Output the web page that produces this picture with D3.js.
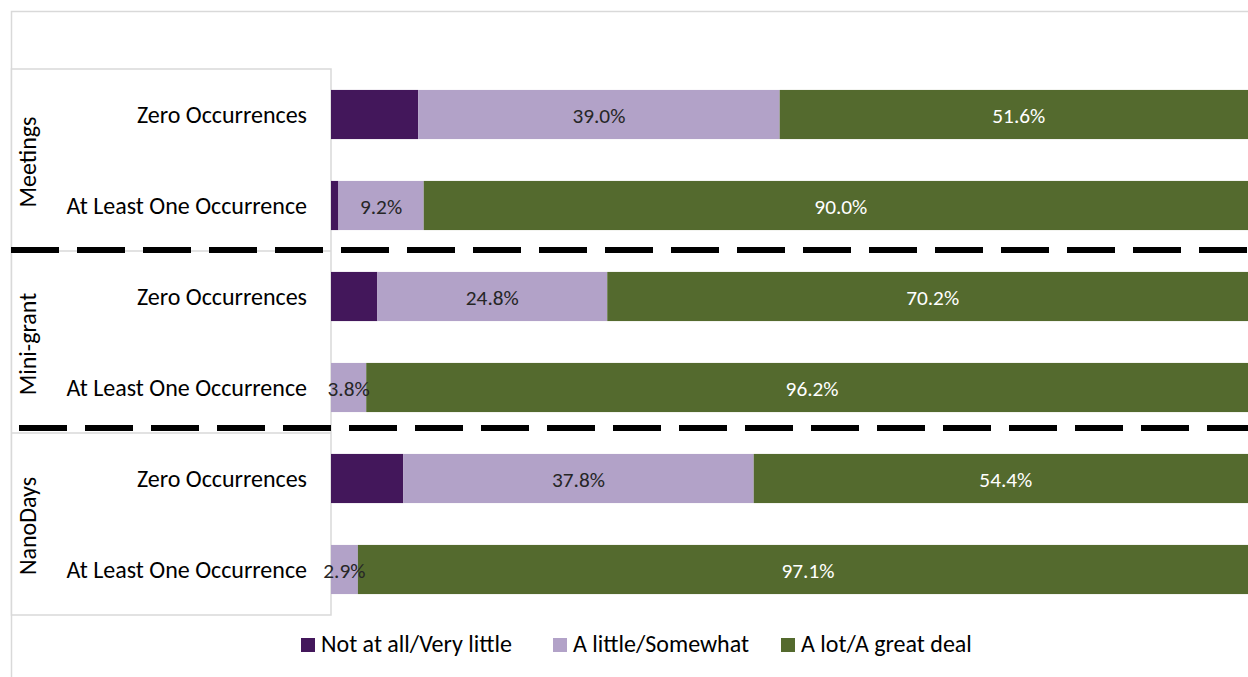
<!DOCTYPE html>
<html>
<head>
<meta charset="utf-8">
<script src="https://cdn.jsdelivr.net/npm/d3@7"></script>
<style>
  html, body { margin: 0; padding: 0; background: #fff; }
  svg { display: block; font-family: Carlito, Calibri, Lato, "Open Sans", sans-serif; }
</style>
</head>
<body>
<svg id="chart" width="1248" height="677"></svg>
<script>
// ---- data ----
const groups = ["Meetings", "Mini-grant", "NanoDays"];
const categories = ["Zero Occurrences", "At Least One Occurrence"];
const seriesNames = ["Not at all/Very little", "A little/Somewhat", "A lot/A great deal"];
// rows in order: Meetings-Zero, Meetings-ALO, Mini-grant-Zero, Mini-grant-ALO, NanoDays-Zero, NanoDays-ALO
const notAtAll = [9.4, 0.8, 5.0, 0.0, 7.8, 0.0];
const aLittle  = [39.0, 9.2, 24.8, 3.8, 37.8, 2.9];
const aLot     = [51.6, 90.0, 70.2, 96.2, 54.4, 97.1];
const showLabel = [false, true, true];
const colors = ["#43175b", "#b2a2c8", "#546a2e"];
const labelColors = ["#ffffff", "#262626", "#ffffff"];

const svg = d3.select("#chart");
const W = 1248, H = 677;

const rows = [];
groups.forEach((g, gi) => categories.forEach((c, ci) => rows.push({ key: g + "|" + c, group: g, cat: c })));
const seriesVals = [notAtAll, aLittle, aLot];

const plotLeft = 331, plotRight = 1258, plotTop = 69, plotBottom = 615;
const x = d3.scaleLinear().domain([0, 100]).range([plotLeft, plotRight]);
const y = d3.scaleBand().domain(rows.map(r => r.key)).range([plotTop, plotBottom]).paddingInner(0.46).paddingOuter(0.23);
const step = y.step();

const labelFont = 24;
const dataFont = 21.3;

// outer chart border
svg.append("rect").attr("x", 11.5).attr("y", 11.5).attr("width", W + 20).attr("height", H + 20)
  .attr("fill", "none").attr("stroke", "#d9d9d9").attr("stroke-width", 1.5);

// left label box
const boxG = svg.append("g");
boxG.append("rect").attr("x", 11.5).attr("y", plotTop).attr("width", plotLeft - 11.5).attr("height", plotBottom - plotTop)
  .attr("fill", "#fff").attr("stroke", "#d9d9d9").attr("stroke-width", 1.5);
groups.forEach((g, gi) => {
  if (gi > 0) {
    const yy = y(rows[gi * 2].key) - step * 0.23;
    boxG.append("line").attr("x1", 11.5).attr("x2", plotLeft).attr("y1", yy).attr("y2", yy)
      .attr("stroke", "#d9d9d9").attr("stroke-width", 1.5);
  }
});

// stacked bars
const stackData = rows.map((r, i) => {
  let acc = 0;
  return seriesVals.map((vals, si) => {
    const d = { row: r, si, x0: acc, x1: acc + vals[i], v: vals[i] };
    acc += vals[i];
    return d;
  });
});

const barsG = svg.append("g");
stackData.forEach(segs => {
  segs.forEach(d => {
    if (d.v <= 0) return;
    barsG.append("rect")
      .attr("x", x(d.x0)).attr("y", y(d.row.key))
      .attr("width", x(d.x1) - x(d.x0)).attr("height", y.bandwidth())
      .attr("fill", colors[d.si]);
  });
});
stackData.forEach(segs => {
  segs.forEach(d => {
    if (d.v <= 0 || !showLabel[d.si]) return;
    barsG.append("text")
      .attr("x", (x(d.x0) + x(d.x1)) / 2)
      .attr("y", y(d.row.key) + y.bandwidth() / 2 + 8)
      .attr("text-anchor", "middle")
      .attr("font-size", dataFont)
      .attr("fill", labelColors[d.si])
      .text(d.v.toFixed(1) + "%");
  });
});

// category labels
rows.forEach(r => {
  svg.append("text")
    .attr("x", 307).attr("y", y(r.key) + y.bandwidth() / 2 + 8.5)
    .attr("text-anchor", "end").attr("font-size", labelFont).attr("fill", "#000")
    .text(r.cat);
});

// group labels (rotated)
groups.forEach((g, gi) => {
  const y0 = y(rows[gi * 2].key) - step * 0.23;
  const y1 = y0 + step * 2;
  const cy = (y0 + y1) / 2 + 2;
  svg.append("text")
    .attr("transform", `translate(36,${cy}) rotate(-90)`)
    .attr("text-anchor", "middle").attr("font-size", labelFont).attr("fill", "#000")
    .text(g);
});

// dashed separators between groups
const dashOffsets = [0, 8];
const dashAdjust = [-1, -5];
groups.forEach((g, gi) => {
  if (gi === 0) return;
  const yy = y(rows[gi * 2].key) - step * 0.23 + dashAdjust[gi - 1];
  svg.append("line")
    .attr("x1", 11 + dashOffsets[gi - 1]).attr("x2", W + 10)
    .attr("y1", yy).attr("y2", yy)
    .attr("stroke", "#000").attr("stroke-width", 6)
    .attr("stroke-dasharray", "48 18");
});

// legend
const legendItems = [
  { name: seriesNames[0], c: colors[0], x: 301 },
  { name: seriesNames[1], c: colors[1], x: 553 },
  { name: seriesNames[2], c: colors[2], x: 781 }
];
const lg = svg.append("g");
legendItems.forEach(it => {
  lg.append("rect").attr("x", it.x).attr("y", 638).attr("width", 14).attr("height", 14).attr("fill", it.c);
  lg.append("text").attr("x", it.x + 20).attr("y", 652).attr("font-size", labelFont).attr("fill", "#000").text(it.name);
});
</script>
</body>
</html>
